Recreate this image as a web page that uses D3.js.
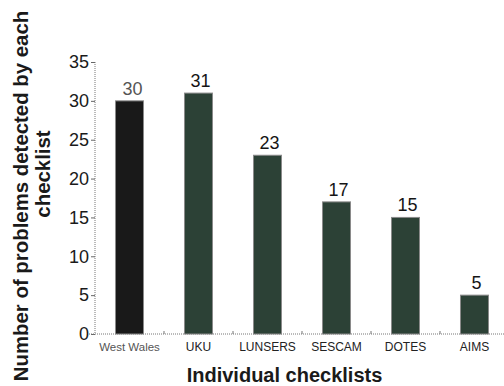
<!DOCTYPE html>
<html><head><meta charset="utf-8">
<script src="https://cdn.jsdelivr.net/npm/d3@7"></script>
<style>body{margin:0;background:#fff;}svg{display:block;font-family:"Liberation Sans",Arial,sans-serif;}</style>
</head><body><svg id="c" width="504" height="386"></svg>
<script>
const categories = ["West Wales","UKU","LUNSERS","SESCAM","DOTES","AIMS"];
const values = [30,31,23,17,15,5];
const yTicks = [0,5,10,15,20,25,30,35];
const xTitle = "Individual checklists";
const yTitleLines = ["Number of problems detected by each","checklist"];

const svg = d3.select("#c");
const x = d3.scaleBand().domain(categories).range([95,509]).paddingInner(0.594).paddingOuter(0.297);
const y = d3.scaleLinear().domain([0,35]).range([334,62]);

// y axis
const ya = svg.append("g").attr("transform","translate(95,0)")
  .call(d3.axisLeft(y).tickValues(yTicks).tickSize(4).tickPadding(2));
ya.select(".domain").attr("stroke","#777").attr("stroke-dasharray","1,1").attr("d","M0,62V334");
ya.selectAll(".tick line").attr("stroke","#666");
ya.selectAll(".tick text").attr("font-size",18).attr("fill","#1a1a1a").attr("font-family","Liberation Sans, Arial, sans-serif");

// x axis baseline
svg.append("line").attr("x1",89).attr("x2",504).attr("y1",334).attr("y2",334)
  .attr("stroke","#777").attr("stroke-dasharray","1,1");
const step = x.step();
categories.slice(1).forEach(c=>{
  const bx = x(c) - step*x.paddingInner()/2;
  svg.append("line").attr("x1",bx).attr("x2",bx).attr("y1",334).attr("y2",331).attr("stroke","#777");
});

// bars
svg.selectAll("rect.bar").data(values).join("rect").attr("class","bar")
  .attr("x",(d,i)=>x(categories[i])).attr("width",x.bandwidth())
  .attr("y",d=>y(d)).attr("height",d=>y(0)-y(d))
  .attr("fill",(d,i)=>i===0?"#191919":"#2c4136")
  .attr("stroke","#8a8a8a").attr("stroke-width",1);

// value labels
svg.selectAll("text.val").data(values).join("text").attr("class","val")
  .attr("x",(d,i)=>x(categories[i])+x.bandwidth()/2+(i===0?3:2))
  .attr("y",d=>y(d)-6).attr("text-anchor","middle")
  .attr("font-size",18).attr("fill",(d,i)=>i===0?"#555":"#151515").text(d=>d);

// x labels
svg.selectAll("text.xl").data(categories).join("text").attr("class","xl")
  .attr("x",d=>x(d)+x.bandwidth()/2).attr("y",351).attr("text-anchor","middle")
  .attr("font-size",d=>d==="West Wales"?11.5:12)
  .attr("fill",d=>d==="West Wales"?"#555":"#222").text(d=>d);

// x title
svg.append("text").attr("x",284.5).attr("y",382).attr("text-anchor","middle")
  .attr("font-size",20).attr("font-weight","bold").attr("fill","#1a1a1a").text(xTitle);

// y title
svg.append("text").attr("transform","rotate(-90)").attr("x",-196).attr("y",28)
  .attr("text-anchor","middle").attr("font-size",20.4).attr("font-weight","bold").attr("fill","#1a1a1a").text(yTitleLines[0]);
svg.append("text").attr("transform","rotate(-90)").attr("x",-174).attr("y",50)
  .attr("text-anchor","middle").attr("font-size",20.4).attr("font-weight","bold").attr("fill","#1a1a1a").text(yTitleLines[1]);
</script></body></html>
